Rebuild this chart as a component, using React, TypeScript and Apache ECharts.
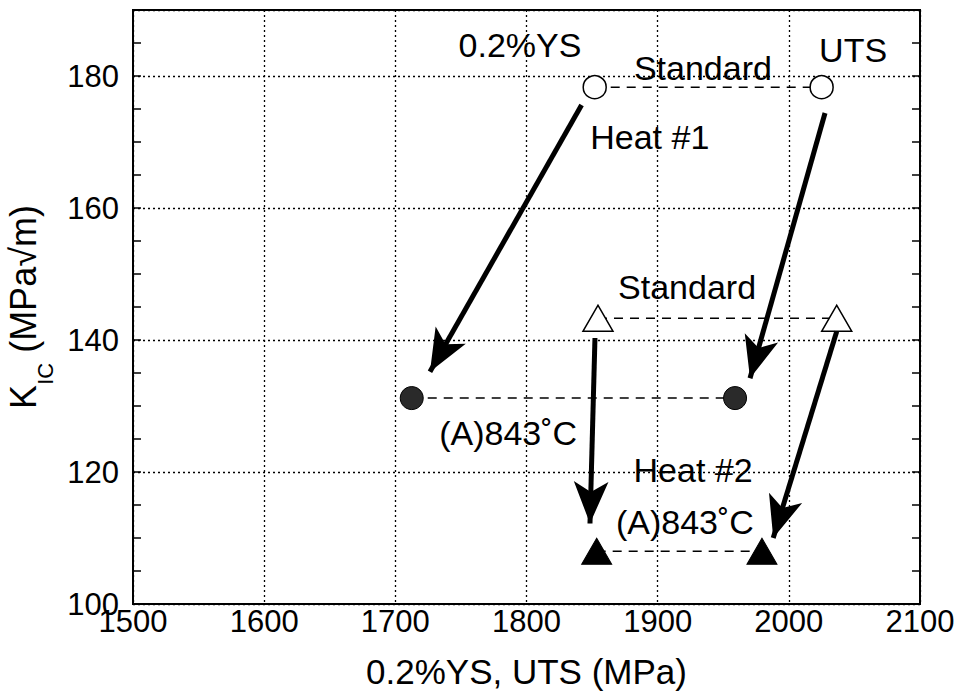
import React, { useEffect, useRef } from "react";
import * as echarts from "echarts";

const FONT = '"Liberation Sans", Arial, Helvetica, sans-serif';

// Heat #1 standard (open circles): [0.2%YS, UTS]
const heat1Standard: number[][] = [[1852, 178.3], [2025, 178.3]];
// Heat #1 (A)843°C (filled circles)
const heat1Austenitized: number[][] = [[1712.5, 131.2], [1959, 131.2]];
// Heat #2 standard (open triangles)
const heat2Standard: number[][] = [[1854.5, 143.3], [2036.5, 143.3]];
// Heat #2 (A)843°C (filled triangles)
const heat2Austenitized: number[][] = [[1853.5, 108], [1979.5, 108]];

// Arrows: start point -> arrow tip
const arrowStarts: number[][] = [[1842, 175.6], [2027.6, 174.4], [1852.2, 140.3], [2036.5, 141.3]];
const arrowEnds: number[][] = [[1726.4, 135.2], [1970.4, 134.2], [1848.4, 112.2], [1988.1, 110.0]];

// Annotation texts and their positions in data units
const annotationTexts = ["0.2%YS", "UTS", "Standard", "Heat #1", "Standard", "(A)843˚C", "Heat #2", "(A)843˚C"];
const annotationX = [1795, 2049, 1934.5, 1894, 1922.4, 1786, 1927, 1920.8];
const annotationY = [184.7, 183.9, 181.2, 170.8, 148.0, 125.9, 120.3, 112.5];

const xMin = 1500, xMax = 2100, xStep = 100;
const yMin = 100, yMax = 190, yLabelStep = 20, yTickStep = 5;

export default function App() {
  const ref = useRef<HTMLDivElement>(null);

  useEffect(() => {
    if (!ref.current) return;
    const chart = echarts.init(ref.current, undefined, { renderer: "svg" });

    const dashed = (data: number[][]) => ({
      type: "line",
      data,
      symbol: "none",
      z: 1,
      lineStyle: { color: "#000", width: 1.5, type: [9, 7] },
      silent: true,
    });

    const option: any = {
      animation: false,
      backgroundColor: "#fff",
      grid: {
        left: 133,
        right: 37,
        top: 10,
        bottom: 91,
        containLabel: false,
        outerBoundsMode: "none",
        show: true,
        borderColor: "#000",
        borderWidth: 2,
        backgroundColor: "transparent",
      },
      xAxis: {
        type: "value",
        min: xMin,
        max: xMax,
        interval: xStep,
        axisLine: { show: true, lineStyle: { color: "#000", width: 2 } },
        axisTick: { show: false },
        axisLabel: {
          fontSize: 31,
          color: "#000",
          fontFamily: FONT,
          margin: 2,
          formatter: (v: number) => String(v),
        },
        splitLine: { show: true, lineStyle: { color: "#000", width: 1.3, type: [2, 3] } },
        name: "0.2%YS, UTS (MPa)",
        nameLocation: "middle",
        nameGap: 50,
        nameTextStyle: { fontSize: 35, color: "#000", fontFamily: FONT },
      },
      yAxis: [
        {
          type: "value",
          min: yMin,
          max: yMax,
          interval: yTickStep,
          position: "left",
          axisLine: { show: true, lineStyle: { color: "#000", width: 2 } },
          axisTick: { show: true, inside: true, length: 8, lineStyle: { color: "#000", width: 1.5 } },
          axisLabel: {
            fontSize: 31,
            color: "#000",
            fontFamily: FONT,
            margin: 14,
            formatter: (v: number) => (v % yLabelStep === 0 && v <= 180 ? String(v) : ""),
          },
          splitLine: { show: false },
          name: "{main|K}{sub|IC}{main| (MPa√m)}",
          nameLocation: "middle",
          nameGap: 70,
          nameTextStyle: {
            color: "#000",
            fontFamily: FONT,
            fontSize: 36,
            lineHeight: 66,
            rich: {
              main: { fontSize: 36, fontFamily: FONT, color: "#000", verticalAlign: "middle" },
              sub: { fontSize: 22, fontFamily: FONT, color: "#000", verticalAlign: "bottom" },
            },
          },
        },
        {
          type: "value",
          min: yMin,
          max: yMax,
          interval: yTickStep,
          position: "right",
          axisLine: { show: true, lineStyle: { color: "#000", width: 2 } },
          axisTick: { show: true, inside: true, length: 8, lineStyle: { color: "#000", width: 1.5 } },
          axisLabel: { show: false },
          splitLine: { show: false },
        },
        {
          type: "value",
          min: yMin,
          max: yMax,
          interval: yLabelStep,
          position: "left",
          axisLine: { show: false },
          axisTick: { show: false },
          axisLabel: { show: false },
          splitLine: { show: true, lineStyle: { color: "#000", width: 1.3, type: [2, 3] } },
        },
      ],
      series: [
        dashed(heat1Standard),
        dashed(heat1Austenitized),
        dashed(heat2Standard),
        dashed(heat2Austenitized),
        {
          type: "scatter",
          data: heat1Standard,
          symbol: "circle",
          symbolSize: 23,
          z: 3,
          itemStyle: { color: "#fff", borderColor: "#000", borderWidth: 1.5, opacity: 1 },
        },
        {
          type: "scatter",
          data: heat1Austenitized,
          symbol: "circle",
          symbolSize: 23,
          z: 3,
          itemStyle: { color: "#2a2a2a", borderColor: "#000", borderWidth: 1, opacity: 1 },
        },
        {
          type: "scatter",
          data: heat2Standard,
          symbol: "triangle",
          symbolSize: [30, 26],
          z: 3,
          itemStyle: { color: "#fff", borderColor: "#000", borderWidth: 1.5, opacity: 1 },
        },
        {
          type: "scatter",
          data: heat2Austenitized,
          symbol: "triangle",
          symbolSize: [30, 26],
          z: 3,
          itemStyle: { color: "#000", borderColor: "#000", borderWidth: 1, opacity: 1 },
        },
        {
          type: "lines",
          coordinateSystem: "cartesian2d",
          z: 4,
          symbol: ["none", "arrow"],
          symbolSize: [[1, 1], [26, 42]],
          lineStyle: { color: "#000", width: 5, opacity: 1, curveness: 0 },
          itemStyle: { color: "#000" },
          data: arrowStarts.map((s, i) => ({ coords: [s, arrowEnds[i]] })),
          silent: true,
        },
        {
          type: "scatter",
          z: 5,
          symbolSize: 1,
          itemStyle: { color: "transparent", opacity: 1 },
          label: {
            show: true,
            position: "inside",
            formatter: "{b}",
            fontSize: 34,
            color: "#000",
            opacity: 1,
            fontFamily: FONT,
          },
          data: annotationTexts.map((t, i) => ({ name: t, value: [annotationX[i], annotationY[i]] })),
          silent: true,
        },
      ],
    };

    chart.setOption(option);
    return () => chart.dispose();
  }, []);

  return (
    <div
      ref={ref}
      style={{ position: "absolute", left: 0, top: 0, width: 957, height: 695, background: "#fff" }}
    />
  );
}
